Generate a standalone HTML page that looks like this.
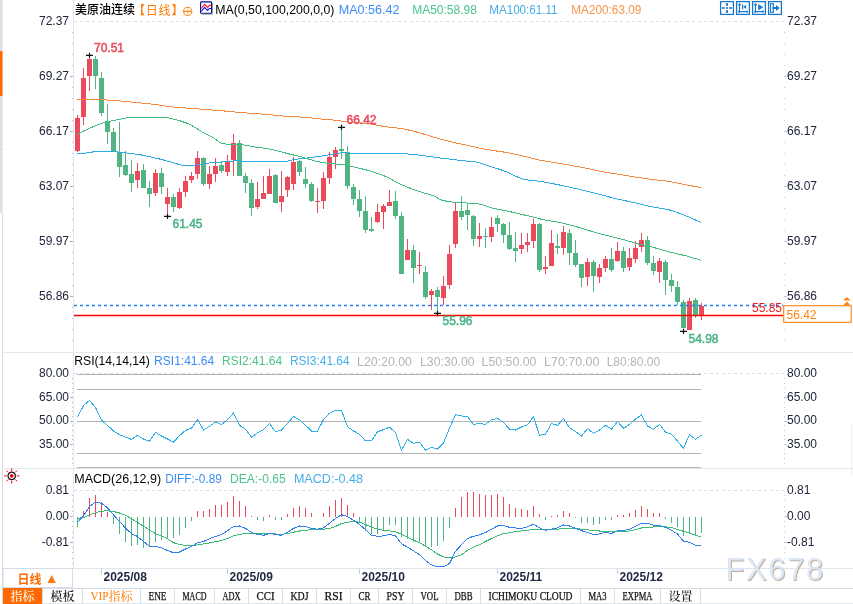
<!DOCTYPE html><html><head><meta charset="utf-8"><title>美原油连续</title><style>
html,body{margin:0;padding:0;width:853px;height:604px;overflow:hidden;background:#fff}
svg{display:block;position:absolute;left:0;top:0}
text{font-family:"Liberation Sans","Noto Sans CJK SC",sans-serif}
.ax{font-size:12px;fill:#20263c}
.hd{font-size:12px}
.tab{font-family:"Liberation Mono","Noto Serif CJK SC",monospace;font-size:12px;fill:#222}
.cj{font-family:"Noto Sans CJK SC",sans-serif}
</style></head><body>
<svg width="853" height="604" viewBox="0 0 853 604">
<rect x="0" y="0" width="2.5" height="213" fill="#dcdfe8"/>
<rect x="0" y="51" width="2.5" height="45" fill="#ff6a00"/>
<rect x="0" y="149" width="2.5" height="1" fill="#ccd0dc"/>
<rect x="2" y="213" width="1" height="391" fill="#d4dbe4"/>
<rect x="851" y="423" width="1" height="54" fill="#eceff3"/>
<g shape-rendering="crispEdges">
<rect x="73" y="0" width="1" height="569" fill="#e2e8ef"/>
<rect x="3" y="352" width="850" height="1" fill="#e2e8ef"/>
<rect x="3" y="468" width="850" height="1" fill="#e2e8ef"/>
<rect x="3" y="568" width="850" height="1" fill="#dde4ec"/>
</g>
<line x1="74" y1="21.5" x2="784" y2="21.5" stroke="#d8dee6" stroke-width="1" stroke-dasharray="3,3"/>
<line x1="74" y1="373.5" x2="784" y2="373.5" stroke="#d8dee6" stroke-width="1" stroke-dasharray="3,3"/>
<line x1="74" y1="490.5" x2="784" y2="490.5" stroke="#d8dee6" stroke-width="1" stroke-dasharray="3,3"/>
<rect x="72" y="32.0" width="1" height="1" fill="#b9bdc8"/>
<rect x="784" y="32.0" width="1" height="1" fill="#c4c8d0"/>
<rect x="72" y="43.0" width="1" height="1" fill="#b9bdc8"/>
<rect x="784" y="43.0" width="1" height="1" fill="#c4c8d0"/>
<rect x="72" y="54.0" width="1" height="1" fill="#b9bdc8"/>
<rect x="784" y="54.0" width="1" height="1" fill="#c4c8d0"/>
<rect x="72" y="65.0" width="1" height="1" fill="#b9bdc8"/>
<rect x="784" y="65.0" width="1" height="1" fill="#c4c8d0"/>
<line x1="70" y1="76.5" x2="73" y2="76.5" stroke="#a9aebb" stroke-width="1"/>
<line x1="784" y1="76.5" x2="787" y2="76.5" stroke="#c4c8d0" stroke-width="1"/>
<rect x="72" y="87.0" width="1" height="1" fill="#b9bdc8"/>
<rect x="784" y="87.0" width="1" height="1" fill="#c4c8d0"/>
<rect x="72" y="98.0" width="1" height="1" fill="#b9bdc8"/>
<rect x="784" y="98.0" width="1" height="1" fill="#c4c8d0"/>
<rect x="72" y="109.0" width="1" height="1" fill="#b9bdc8"/>
<rect x="784" y="109.0" width="1" height="1" fill="#c4c8d0"/>
<rect x="72" y="120.0" width="1" height="1" fill="#b9bdc8"/>
<rect x="784" y="120.0" width="1" height="1" fill="#c4c8d0"/>
<line x1="70" y1="131.5" x2="73" y2="131.5" stroke="#a9aebb" stroke-width="1"/>
<line x1="784" y1="131.5" x2="787" y2="131.5" stroke="#c4c8d0" stroke-width="1"/>
<rect x="72" y="142.0" width="1" height="1" fill="#b9bdc8"/>
<rect x="784" y="142.0" width="1" height="1" fill="#c4c8d0"/>
<rect x="72" y="153.0" width="1" height="1" fill="#b9bdc8"/>
<rect x="784" y="153.0" width="1" height="1" fill="#c4c8d0"/>
<rect x="72" y="164.0" width="1" height="1" fill="#b9bdc8"/>
<rect x="784" y="164.0" width="1" height="1" fill="#c4c8d0"/>
<rect x="72" y="175.0" width="1" height="1" fill="#b9bdc8"/>
<rect x="784" y="175.0" width="1" height="1" fill="#c4c8d0"/>
<line x1="70" y1="186.5" x2="73" y2="186.5" stroke="#a9aebb" stroke-width="1"/>
<line x1="784" y1="186.5" x2="787" y2="186.5" stroke="#c4c8d0" stroke-width="1"/>
<rect x="72" y="197.0" width="1" height="1" fill="#b9bdc8"/>
<rect x="784" y="197.0" width="1" height="1" fill="#c4c8d0"/>
<rect x="72" y="208.0" width="1" height="1" fill="#b9bdc8"/>
<rect x="784" y="208.0" width="1" height="1" fill="#c4c8d0"/>
<rect x="72" y="219.0" width="1" height="1" fill="#b9bdc8"/>
<rect x="784" y="219.0" width="1" height="1" fill="#c4c8d0"/>
<rect x="72" y="230.0" width="1" height="1" fill="#b9bdc8"/>
<rect x="784" y="230.0" width="1" height="1" fill="#c4c8d0"/>
<line x1="70" y1="241.5" x2="73" y2="241.5" stroke="#a9aebb" stroke-width="1"/>
<line x1="784" y1="241.5" x2="787" y2="241.5" stroke="#c4c8d0" stroke-width="1"/>
<rect x="72" y="252.0" width="1" height="1" fill="#b9bdc8"/>
<rect x="784" y="252.0" width="1" height="1" fill="#c4c8d0"/>
<rect x="72" y="263.0" width="1" height="1" fill="#b9bdc8"/>
<rect x="784" y="263.0" width="1" height="1" fill="#c4c8d0"/>
<rect x="72" y="274.0" width="1" height="1" fill="#b9bdc8"/>
<rect x="784" y="274.0" width="1" height="1" fill="#c4c8d0"/>
<rect x="72" y="285.0" width="1" height="1" fill="#b9bdc8"/>
<rect x="784" y="285.0" width="1" height="1" fill="#c4c8d0"/>
<line x1="70" y1="296.5" x2="73" y2="296.5" stroke="#a9aebb" stroke-width="1"/>
<line x1="784" y1="296.5" x2="787" y2="296.5" stroke="#c4c8d0" stroke-width="1"/>
<rect x="72" y="307.0" width="1" height="1" fill="#b9bdc8"/>
<rect x="784" y="307.0" width="1" height="1" fill="#c4c8d0"/>
<rect x="72" y="318.0" width="1" height="1" fill="#b9bdc8"/>
<rect x="784" y="318.0" width="1" height="1" fill="#c4c8d0"/>
<rect x="72" y="329.0" width="1" height="1" fill="#b9bdc8"/>
<rect x="784" y="329.0" width="1" height="1" fill="#c4c8d0"/>
<rect x="72" y="340.0" width="1" height="1" fill="#b9bdc8"/>
<rect x="784" y="340.0" width="1" height="1" fill="#c4c8d0"/>
<text class="ax" x="69" y="25.3" text-anchor="end">72.37</text>
<text class="ax" x="787" y="25.3">72.37</text>
<text class="ax" x="69" y="80.25" text-anchor="end">69.27</text>
<text class="ax" x="787" y="80.25">69.27</text>
<text class="ax" x="69" y="135.2" text-anchor="end">66.17</text>
<text class="ax" x="787" y="135.2">66.17</text>
<text class="ax" x="69" y="190.15" text-anchor="end">63.07</text>
<text class="ax" x="787" y="190.15">63.07</text>
<text class="ax" x="69" y="245.1" text-anchor="end">59.97</text>
<text class="ax" x="787" y="245.1">59.97</text>
<text class="ax" x="69" y="300.05" text-anchor="end">56.86</text>
<text class="ax" x="787" y="300.05">56.86</text>
<rect x="72" y="378.0" width="1" height="1" fill="#b9bdc8"/>
<rect x="784" y="378.0" width="1" height="1" fill="#c4c8d0"/>
<rect x="72" y="383.0" width="1" height="1" fill="#b9bdc8"/>
<rect x="784" y="383.0" width="1" height="1" fill="#c4c8d0"/>
<rect x="72" y="388.0" width="1" height="1" fill="#b9bdc8"/>
<rect x="784" y="388.0" width="1" height="1" fill="#c4c8d0"/>
<rect x="72" y="392.0" width="1" height="1" fill="#b9bdc8"/>
<rect x="784" y="392.0" width="1" height="1" fill="#c4c8d0"/>
<line x1="70" y1="397.5" x2="73" y2="397.5" stroke="#a9aebb" stroke-width="1"/>
<line x1="784" y1="397.5" x2="787" y2="397.5" stroke="#c4c8d0" stroke-width="1"/>
<rect x="72" y="402.0" width="1" height="1" fill="#b9bdc8"/>
<rect x="784" y="402.0" width="1" height="1" fill="#c4c8d0"/>
<rect x="72" y="407.0" width="1" height="1" fill="#b9bdc8"/>
<rect x="784" y="407.0" width="1" height="1" fill="#c4c8d0"/>
<rect x="72" y="411.0" width="1" height="1" fill="#b9bdc8"/>
<rect x="784" y="411.0" width="1" height="1" fill="#c4c8d0"/>
<rect x="72" y="416.0" width="1" height="1" fill="#b9bdc8"/>
<rect x="784" y="416.0" width="1" height="1" fill="#c4c8d0"/>
<line x1="70" y1="421.5" x2="73" y2="421.5" stroke="#a9aebb" stroke-width="1"/>
<line x1="784" y1="421.5" x2="787" y2="421.5" stroke="#c4c8d0" stroke-width="1"/>
<rect x="72" y="425.0" width="1" height="1" fill="#b9bdc8"/>
<rect x="784" y="425.0" width="1" height="1" fill="#c4c8d0"/>
<rect x="72" y="430.0" width="1" height="1" fill="#b9bdc8"/>
<rect x="784" y="430.0" width="1" height="1" fill="#c4c8d0"/>
<rect x="72" y="435.0" width="1" height="1" fill="#b9bdc8"/>
<rect x="784" y="435.0" width="1" height="1" fill="#c4c8d0"/>
<rect x="72" y="439.0" width="1" height="1" fill="#b9bdc8"/>
<rect x="784" y="439.0" width="1" height="1" fill="#c4c8d0"/>
<line x1="70" y1="444.5" x2="73" y2="444.5" stroke="#a9aebb" stroke-width="1"/>
<line x1="784" y1="444.5" x2="787" y2="444.5" stroke="#c4c8d0" stroke-width="1"/>
<rect x="72" y="449.0" width="1" height="1" fill="#b9bdc8"/>
<rect x="784" y="449.0" width="1" height="1" fill="#c4c8d0"/>
<rect x="72" y="453.0" width="1" height="1" fill="#b9bdc8"/>
<rect x="784" y="453.0" width="1" height="1" fill="#c4c8d0"/>
<rect x="72" y="458.0" width="1" height="1" fill="#b9bdc8"/>
<rect x="784" y="458.0" width="1" height="1" fill="#c4c8d0"/>
<rect x="72" y="463.0" width="1" height="1" fill="#b9bdc8"/>
<rect x="784" y="463.0" width="1" height="1" fill="#c4c8d0"/>
<text class="ax" x="69" y="377.4" text-anchor="end">80.00</text>
<text class="ax" x="787" y="377.4">80.00</text>
<text class="ax" x="69" y="400.85" text-anchor="end">65.00</text>
<text class="ax" x="787" y="400.85">65.00</text>
<text class="ax" x="69" y="424.3" text-anchor="end">50.00</text>
<text class="ax" x="787" y="424.3">50.00</text>
<text class="ax" x="69" y="447.75" text-anchor="end">35.00</text>
<text class="ax" x="787" y="447.75">35.00</text>
<rect x="72" y="495.0" width="1" height="1" fill="#b9bdc8"/>
<rect x="784" y="495.0" width="1" height="1" fill="#c4c8d0"/>
<rect x="72" y="500.0" width="1" height="1" fill="#b9bdc8"/>
<rect x="784" y="500.0" width="1" height="1" fill="#c4c8d0"/>
<rect x="72" y="506.0" width="1" height="1" fill="#b9bdc8"/>
<rect x="784" y="506.0" width="1" height="1" fill="#c4c8d0"/>
<rect x="72" y="511.0" width="1" height="1" fill="#b9bdc8"/>
<rect x="784" y="511.0" width="1" height="1" fill="#c4c8d0"/>
<line x1="70" y1="516.5" x2="73" y2="516.5" stroke="#a9aebb" stroke-width="1"/>
<line x1="784" y1="516.5" x2="787" y2="516.5" stroke="#c4c8d0" stroke-width="1"/>
<rect x="72" y="521.0" width="1" height="1" fill="#b9bdc8"/>
<rect x="784" y="521.0" width="1" height="1" fill="#c4c8d0"/>
<rect x="72" y="526.0" width="1" height="1" fill="#b9bdc8"/>
<rect x="784" y="526.0" width="1" height="1" fill="#c4c8d0"/>
<rect x="72" y="532.0" width="1" height="1" fill="#b9bdc8"/>
<rect x="784" y="532.0" width="1" height="1" fill="#c4c8d0"/>
<rect x="72" y="537.0" width="1" height="1" fill="#b9bdc8"/>
<rect x="784" y="537.0" width="1" height="1" fill="#c4c8d0"/>
<line x1="70" y1="542.5" x2="73" y2="542.5" stroke="#a9aebb" stroke-width="1"/>
<line x1="784" y1="542.5" x2="787" y2="542.5" stroke="#c4c8d0" stroke-width="1"/>
<rect x="72" y="547.0" width="1" height="1" fill="#b9bdc8"/>
<rect x="784" y="547.0" width="1" height="1" fill="#c4c8d0"/>
<rect x="72" y="552.0" width="1" height="1" fill="#b9bdc8"/>
<rect x="784" y="552.0" width="1" height="1" fill="#c4c8d0"/>
<rect x="72" y="558.0" width="1" height="1" fill="#b9bdc8"/>
<rect x="784" y="558.0" width="1" height="1" fill="#c4c8d0"/>
<rect x="72" y="563.0" width="1" height="1" fill="#b9bdc8"/>
<rect x="784" y="563.0" width="1" height="1" fill="#c4c8d0"/>
<text class="ax" x="69" y="494" text-anchor="end">0.81</text>
<text class="ax" x="787" y="494">0.81</text>
<text class="ax" x="69" y="520" text-anchor="end">0.00</text>
<text class="ax" x="787" y="520">0.00</text>
<text class="ax" x="69" y="546" text-anchor="end">-0.81</text>
<text class="ax" x="787" y="546">-0.81</text>
<g shape-rendering="crispEdges">
<rect x="77" y="114.8" width="1" height="36.8" fill="#ea4a5c"/>
<rect x="75" y="118" width="5" height="33" fill="#ea4a5c"/>
<rect x="83" y="67.9" width="1" height="56.9" fill="#ea4a5c"/>
<rect x="81" y="77.9" width="5" height="38.7" fill="#ea4a5c"/>
<rect x="89" y="55.3" width="1" height="35.7" fill="#ea4a5c"/>
<rect x="87" y="58.8" width="5" height="16.7" fill="#ea4a5c"/>
<rect x="95" y="56" width="1" height="32.6" fill="#52b483"/>
<rect x="93" y="58.9" width="5" height="16.6" fill="#52b483"/>
<rect x="101" y="71.5" width="1" height="44.1" fill="#52b483"/>
<rect x="99" y="78.2" width="5" height="34.4" fill="#52b483"/>
<rect x="107" y="104.1" width="1" height="39.7" fill="#52b483"/>
<rect x="105" y="121.3" width="5" height="10.2" fill="#52b483"/>
<rect x="113" y="127.9" width="1" height="23.6" fill="#52b483"/>
<rect x="111" y="132.3" width="5" height="18.4" fill="#52b483"/>
<rect x="119" y="121.9" width="1" height="54.6" fill="#52b483"/>
<rect x="117" y="151.6" width="5" height="14.9" fill="#52b483"/>
<rect x="125" y="151" width="1" height="24.6" fill="#52b483"/>
<rect x="123" y="165" width="5" height="9.7" fill="#52b483"/>
<rect x="131" y="160.1" width="1" height="31.5" fill="#52b483"/>
<rect x="129" y="174.2" width="5" height="8.3" fill="#52b483"/>
<rect x="137" y="162.9" width="1" height="24.6" fill="#ea4a5c"/>
<rect x="135" y="171.2" width="5" height="9.1" fill="#ea4a5c"/>
<rect x="143" y="164" width="1" height="24" fill="#52b483"/>
<rect x="141" y="170" width="5" height="18" fill="#52b483"/>
<rect x="149" y="181" width="1" height="26" fill="#52b483"/>
<rect x="147" y="188" width="5" height="5.7" fill="#52b483"/>
<rect x="155" y="168.9" width="1" height="27" fill="#ea4a5c"/>
<rect x="153" y="173" width="5" height="20" fill="#ea4a5c"/>
<rect x="161" y="168" width="1" height="25.7" fill="#52b483"/>
<rect x="159" y="173" width="5" height="14.1" fill="#52b483"/>
<rect x="167" y="188" width="1" height="27" fill="#ea4a5c"/>
<rect x="165" y="197" width="5" height="6.7" fill="#ea4a5c"/>
<rect x="173" y="193.7" width="1" height="18.3" fill="#52b483"/>
<rect x="171" y="197" width="5" height="10" fill="#52b483"/>
<rect x="179" y="188" width="1" height="20.6" fill="#ea4a5c"/>
<rect x="177" y="192" width="5" height="15.8" fill="#ea4a5c"/>
<rect x="185" y="176" width="1" height="21" fill="#ea4a5c"/>
<rect x="183" y="181" width="5" height="11" fill="#ea4a5c"/>
<rect x="191" y="172.2" width="1" height="10.8" fill="#ea4a5c"/>
<rect x="189" y="176" width="5" height="3.7" fill="#ea4a5c"/>
<rect x="197" y="151.1" width="1" height="27.7" fill="#ea4a5c"/>
<rect x="195" y="158.1" width="5" height="15.7" fill="#ea4a5c"/>
<rect x="203" y="157.3" width="1" height="28.6" fill="#52b483"/>
<rect x="201" y="158.1" width="5" height="25.6" fill="#52b483"/>
<rect x="209" y="166" width="1" height="22.7" fill="#ea4a5c"/>
<rect x="207" y="173.8" width="5" height="9.9" fill="#ea4a5c"/>
<rect x="215" y="158.1" width="1" height="23.5" fill="#ea4a5c"/>
<rect x="213" y="166" width="5" height="7.8" fill="#ea4a5c"/>
<rect x="221" y="161" width="1" height="11.6" fill="#52b483"/>
<rect x="219" y="165" width="5" height="5.5" fill="#52b483"/>
<rect x="227" y="155.1" width="1" height="20.4" fill="#ea4a5c"/>
<rect x="225" y="161" width="5" height="10.7" fill="#ea4a5c"/>
<rect x="233" y="134.1" width="1" height="41.9" fill="#ea4a5c"/>
<rect x="231" y="143.2" width="5" height="16.5" fill="#ea4a5c"/>
<rect x="239" y="139.9" width="1" height="35.6" fill="#52b483"/>
<rect x="237" y="143.2" width="5" height="32.3" fill="#52b483"/>
<rect x="245" y="173" width="1" height="19.5" fill="#52b483"/>
<rect x="243" y="175.5" width="5" height="7.1" fill="#52b483"/>
<rect x="251" y="178.8" width="1" height="37" fill="#52b483"/>
<rect x="249" y="183" width="5" height="24.8" fill="#52b483"/>
<rect x="257" y="182.2" width="1" height="26.9" fill="#ea4a5c"/>
<rect x="255" y="199.2" width="5" height="7.8" fill="#ea4a5c"/>
<rect x="263" y="176" width="1" height="22.7" fill="#ea4a5c"/>
<rect x="261" y="192.9" width="5" height="5.8" fill="#ea4a5c"/>
<rect x="269" y="168.9" width="1" height="24.8" fill="#ea4a5c"/>
<rect x="267" y="176" width="5" height="17.7" fill="#ea4a5c"/>
<rect x="275" y="173.9" width="1" height="28.6" fill="#52b483"/>
<rect x="273" y="174.7" width="5" height="27.8" fill="#52b483"/>
<rect x="281" y="171.1" width="1" height="40.4" fill="#ea4a5c"/>
<rect x="279" y="196.3" width="5" height="5.3" fill="#ea4a5c"/>
<rect x="287" y="176" width="1" height="20.7" fill="#ea4a5c"/>
<rect x="285" y="177.1" width="5" height="12.6" fill="#ea4a5c"/>
<rect x="293" y="157" width="1" height="32.7" fill="#ea4a5c"/>
<rect x="291" y="161.9" width="5" height="21.8" fill="#ea4a5c"/>
<rect x="299" y="159.6" width="1" height="16.2" fill="#52b483"/>
<rect x="297" y="160.9" width="5" height="10.9" fill="#52b483"/>
<rect x="305" y="167.2" width="1" height="20.5" fill="#52b483"/>
<rect x="303" y="179.1" width="5" height="4.6" fill="#52b483"/>
<rect x="311" y="182.1" width="1" height="19.9" fill="#52b483"/>
<rect x="309" y="184" width="5" height="16.9" fill="#52b483"/>
<rect x="317" y="188" width="1" height="24.8" fill="#ea4a5c"/>
<rect x="315" y="200.9" width="5" height="1.2" fill="#ea4a5c"/>
<rect x="323" y="171.8" width="1" height="37.1" fill="#ea4a5c"/>
<rect x="321" y="178.1" width="5" height="22.8" fill="#ea4a5c"/>
<rect x="329" y="152.1" width="1" height="31.4" fill="#ea4a5c"/>
<rect x="327" y="157.1" width="5" height="20.9" fill="#ea4a5c"/>
<rect x="335" y="147.2" width="1" height="21.4" fill="#ea4a5c"/>
<rect x="333" y="150.1" width="5" height="6.6" fill="#ea4a5c"/>
<rect x="341" y="126.9" width="1" height="31.8" fill="#52b483"/>
<rect x="339" y="149.3" width="5" height="1.4" fill="#52b483"/>
<rect x="347" y="146.2" width="1" height="42.3" fill="#52b483"/>
<rect x="345" y="152.1" width="5" height="33.4" fill="#52b483"/>
<rect x="353" y="184.2" width="1" height="20.4" fill="#52b483"/>
<rect x="351" y="186.8" width="5" height="11.9" fill="#52b483"/>
<rect x="359" y="190.1" width="1" height="26.5" fill="#52b483"/>
<rect x="357" y="199.3" width="5" height="11.3" fill="#52b483"/>
<rect x="365" y="196.1" width="1" height="37.3" fill="#52b483"/>
<rect x="363" y="211.2" width="5" height="18.3" fill="#52b483"/>
<rect x="371" y="217.2" width="1" height="14.3" fill="#52b483"/>
<rect x="369" y="229.1" width="5" height="1.4" fill="#52b483"/>
<rect x="377" y="204" width="1" height="18.5" fill="#ea4a5c"/>
<rect x="375" y="212" width="5" height="9.5" fill="#ea4a5c"/>
<rect x="383" y="204" width="1" height="24.5" fill="#ea4a5c"/>
<rect x="381" y="206" width="5" height="5.6" fill="#ea4a5c"/>
<rect x="389" y="190.1" width="1" height="15.5" fill="#ea4a5c"/>
<rect x="387" y="202" width="5" height="3.6" fill="#ea4a5c"/>
<rect x="395" y="191.3" width="1" height="27.2" fill="#52b483"/>
<rect x="393" y="201.3" width="5" height="14.3" fill="#52b483"/>
<rect x="401" y="212.3" width="1" height="61.2" fill="#52b483"/>
<rect x="399" y="216" width="5" height="57.5" fill="#52b483"/>
<rect x="407" y="238.7" width="1" height="20.9" fill="#ea4a5c"/>
<rect x="405" y="250.1" width="5" height="9.5" fill="#ea4a5c"/>
<rect x="413" y="245.3" width="1" height="37.2" fill="#52b483"/>
<rect x="411" y="250.1" width="5" height="17.5" fill="#52b483"/>
<rect x="419" y="252.1" width="1" height="21.4" fill="#ea4a5c"/>
<rect x="417" y="264.8" width="5" height="1.6" fill="#ea4a5c"/>
<rect x="425" y="266" width="1" height="32.9" fill="#52b483"/>
<rect x="423" y="271.9" width="5" height="25.1" fill="#52b483"/>
<rect x="431" y="289" width="1" height="20.7" fill="#ea4a5c"/>
<rect x="429" y="291" width="5" height="4" fill="#ea4a5c"/>
<rect x="437" y="287" width="1" height="26.4" fill="#52b483"/>
<rect x="435" y="289.8" width="5" height="7.2" fill="#52b483"/>
<rect x="443" y="275.9" width="1" height="29.4" fill="#ea4a5c"/>
<rect x="441" y="285.8" width="5" height="12" fill="#ea4a5c"/>
<rect x="449" y="244.6" width="1" height="44.4" fill="#ea4a5c"/>
<rect x="447" y="254" width="5" height="31" fill="#ea4a5c"/>
<rect x="455" y="202.8" width="1" height="44.8" fill="#ea4a5c"/>
<rect x="453" y="210.8" width="5" height="33.2" fill="#ea4a5c"/>
<rect x="461" y="195.9" width="1" height="23.8" fill="#52b483"/>
<rect x="459" y="210.8" width="5" height="6" fill="#52b483"/>
<rect x="467" y="202.8" width="1" height="26.9" fill="#52b483"/>
<rect x="465" y="209.8" width="5" height="5" fill="#52b483"/>
<rect x="473" y="215.4" width="1" height="30.2" fill="#52b483"/>
<rect x="471" y="215.8" width="5" height="22.8" fill="#52b483"/>
<rect x="479" y="222.7" width="1" height="23.9" fill="#ea4a5c"/>
<rect x="477" y="236" width="5" height="2.6" fill="#ea4a5c"/>
<rect x="485" y="228.1" width="1" height="19.5" fill="#52b483"/>
<rect x="483" y="236" width="5" height="1.2" fill="#52b483"/>
<rect x="491" y="216.8" width="1" height="24.8" fill="#ea4a5c"/>
<rect x="489" y="227.3" width="5" height="9.3" fill="#ea4a5c"/>
<rect x="497" y="215.4" width="1" height="16.6" fill="#52b483"/>
<rect x="495" y="218.1" width="5" height="5.6" fill="#52b483"/>
<rect x="503" y="222.7" width="1" height="20.5" fill="#52b483"/>
<rect x="501" y="224.1" width="5" height="10.5" fill="#52b483"/>
<rect x="509" y="222.1" width="1" height="27.8" fill="#52b483"/>
<rect x="507" y="235.2" width="5" height="13.3" fill="#52b483"/>
<rect x="515" y="232.1" width="1" height="29.4" fill="#52b483"/>
<rect x="513" y="248" width="5" height="2.5" fill="#52b483"/>
<rect x="521" y="232.7" width="1" height="21.2" fill="#ea4a5c"/>
<rect x="519" y="245.2" width="5" height="3.3" fill="#ea4a5c"/>
<rect x="527" y="233.2" width="1" height="18.3" fill="#ea4a5c"/>
<rect x="525" y="242" width="5" height="2.6" fill="#ea4a5c"/>
<rect x="533" y="218.7" width="1" height="28.9" fill="#ea4a5c"/>
<rect x="531" y="224.1" width="5" height="16.5" fill="#ea4a5c"/>
<rect x="539" y="222.7" width="1" height="49.1" fill="#52b483"/>
<rect x="537" y="223.7" width="5" height="46.1" fill="#52b483"/>
<rect x="545" y="255.9" width="1" height="18.5" fill="#ea4a5c"/>
<rect x="543" y="267" width="5" height="2.4" fill="#ea4a5c"/>
<rect x="551" y="229.7" width="1" height="36.1" fill="#ea4a5c"/>
<rect x="549" y="243.2" width="5" height="22.6" fill="#ea4a5c"/>
<rect x="557" y="233.8" width="1" height="19.8" fill="#52b483"/>
<rect x="555" y="246" width="5" height="1.6" fill="#52b483"/>
<rect x="563" y="225.8" width="1" height="28.8" fill="#ea4a5c"/>
<rect x="561" y="231.8" width="5" height="15.9" fill="#ea4a5c"/>
<rect x="569" y="228.8" width="1" height="35.8" fill="#52b483"/>
<rect x="567" y="232.8" width="5" height="19.9" fill="#52b483"/>
<rect x="575" y="240.1" width="1" height="26.5" fill="#52b483"/>
<rect x="573" y="253.2" width="5" height="11.4" fill="#52b483"/>
<rect x="581" y="264" width="1" height="23.4" fill="#52b483"/>
<rect x="579" y="264" width="5" height="13.5" fill="#52b483"/>
<rect x="587" y="258" width="1" height="28.4" fill="#ea4a5c"/>
<rect x="585" y="262" width="5" height="14.5" fill="#ea4a5c"/>
<rect x="593" y="260" width="1" height="32.4" fill="#52b483"/>
<rect x="591" y="262" width="5" height="13.5" fill="#52b483"/>
<rect x="599" y="264" width="1" height="18.5" fill="#ea4a5c"/>
<rect x="597" y="268" width="5" height="8.5" fill="#ea4a5c"/>
<rect x="605" y="256" width="1" height="15.9" fill="#ea4a5c"/>
<rect x="603" y="259.2" width="5" height="8.4" fill="#ea4a5c"/>
<rect x="611" y="248.1" width="1" height="23.7" fill="#52b483"/>
<rect x="609" y="259.2" width="5" height="10.4" fill="#52b483"/>
<rect x="617" y="241.9" width="1" height="20.3" fill="#ea4a5c"/>
<rect x="615" y="251.1" width="5" height="9.5" fill="#ea4a5c"/>
<rect x="623" y="246.8" width="1" height="24.9" fill="#52b483"/>
<rect x="621" y="251.1" width="5" height="16.6" fill="#52b483"/>
<rect x="629" y="248.1" width="1" height="22.4" fill="#ea4a5c"/>
<rect x="627" y="258.1" width="5" height="8.6" fill="#ea4a5c"/>
<rect x="635" y="241.2" width="1" height="21.5" fill="#ea4a5c"/>
<rect x="633" y="248.1" width="5" height="10.8" fill="#ea4a5c"/>
<rect x="641" y="232.9" width="1" height="18.6" fill="#ea4a5c"/>
<rect x="639" y="240.2" width="5" height="7.1" fill="#ea4a5c"/>
<rect x="647" y="236.2" width="1" height="28.5" fill="#52b483"/>
<rect x="645" y="240.2" width="5" height="22.5" fill="#52b483"/>
<rect x="653" y="256.1" width="1" height="18.5" fill="#52b483"/>
<rect x="651" y="263" width="5" height="7.5" fill="#52b483"/>
<rect x="659" y="258" width="1" height="24.8" fill="#ea4a5c"/>
<rect x="657" y="261.3" width="5" height="10.3" fill="#ea4a5c"/>
<rect x="665" y="260.2" width="1" height="34.4" fill="#52b483"/>
<rect x="663" y="262" width="5" height="17.7" fill="#52b483"/>
<rect x="671" y="273.9" width="1" height="17.8" fill="#52b483"/>
<rect x="669" y="280" width="5" height="5.5" fill="#52b483"/>
<rect x="677" y="281.1" width="1" height="23.8" fill="#52b483"/>
<rect x="675" y="287.2" width="5" height="14.4" fill="#52b483"/>
<rect x="683" y="300.4" width="1" height="29.6" fill="#52b483"/>
<rect x="681" y="302.1" width="5" height="25.6" fill="#52b483"/>
<rect x="689" y="298" width="1" height="31.7" fill="#ea4a5c"/>
<rect x="687" y="301.3" width="5" height="28.4" fill="#ea4a5c"/>
<rect x="695" y="298" width="1" height="19.8" fill="#52b483"/>
<rect x="693" y="300" width="5" height="15.3" fill="#52b483"/>
<rect x="701" y="302.9" width="1" height="16.9" fill="#ea4a5c"/>
<rect x="699" y="305.9" width="5" height="9.4" fill="#ea4a5c"/>
</g>
<path fill="none" stroke="#f78a3c" stroke-width="1" shape-rendering="crispEdges" d="M77,99.4 C80.67,99.4 84.33,99.4 88,99.4 C93.67,99.4 99.33,99.67 105,99.9 C110.33,100.12 115.67,100.57 121,101 C126.67,101.46 132.33,102.13 138,102.7 C143.33,103.23 148.67,103.66 154,104.3 C159.5,104.96 165,106.23 170.5,106.8 C176,107.37 181.5,107.67 187,108.1 C193,108.57 199,109.04 205,109.5 C210.33,109.91 215.67,110.26 221,110.7 C226.67,111.17 232.33,111.83 238,112.3 C243.33,112.74 248.67,113.1 254,113.5 C259.67,113.93 265.33,114.31 271,114.8 C276.33,115.26 281.67,116.05 287,116.4 C292.5,116.76 298,116.84 303.5,117.2 C309,117.56 314.5,118.38 320,118.9 C325.33,119.4 330.67,119.74 336,120.3 C341.33,120.86 346.67,121.89 352,122.4 C357.33,122.91 362.67,123.04 368,123.6 C373.67,124.19 379.33,125.8 385,126.6 C390.33,127.36 395.67,127.67 401,128.5 C406.67,129.38 412.33,130.91 418,132.4 C423.33,133.8 428.67,135.78 434,137.3 C439.67,138.91 445.33,140.44 451,141.8 C456.33,143.08 461.67,144.16 467,145.3 C474.33,146.87 481.67,148.64 489,149.9 C494.67,150.87 500.33,151.43 506,152.4 C511.33,153.32 516.67,154.48 522,155.7 C527.33,156.92 532.67,158.71 538,159.8 C543.67,160.96 549.33,161.74 555,162.7 C560.33,163.6 565.67,164.45 571,165.4 C576,166.29 581,167.21 586,168.2 C591.67,169.32 597.33,170.76 603,171.8 C608.33,172.78 613.67,173.53 619,174.4 C624.67,175.33 630.33,176.35 636,177.2 C641.33,178 646.67,178.72 652,179.4 C657.33,180.08 662.67,180.52 668,181.3 C673.67,182.13 679.33,183.52 685,184.6 C690.33,185.62 695.67,186.6 701,187.6"/>
<path fill="none" stroke="#30a8e2" stroke-width="1" shape-rendering="crispEdges" d="M77,153.6 C80.67,153.33 84.33,153.17 88,152.8 C91,152.5 94,151.4 97,151.4 C101.33,151.4 105.67,151.4 110,151.4 C113.67,151.4 117.33,152.03 121,152.4 C126.67,152.98 132.33,153.55 138,154.4 C143.33,155.2 148.67,156.5 154,157.7 C159.5,158.94 165,160.4 170.5,161.8 C175.33,163.03 180.17,165.6 185,165.6 C189.67,165.6 194.33,165.26 199,164.8 C201,164.6 203,163.77 205,163.5 C210.33,162.79 215.67,162.54 221,162.1 C226.67,161.64 232.33,160.8 238,160.8 C241.67,160.8 245.33,161.6 249,161.6 C256.33,161.6 263.67,161.6 271,161.6 C275.33,161.6 279.67,161.6 284,161.6 C287.67,161.6 291.33,159.94 295,159.4 C300.67,158.57 306.33,158.24 312,157.5 C317.33,156.8 322.67,155.77 328,155 C333.67,154.18 339.33,152.7 345,152.7 C347.33,152.7 349.67,153.29 352,153.3 C367.33,153.38 382.67,153.33 398,153.4 C404.67,153.43 411.33,154.32 418,155 C423.33,155.54 428.67,156.51 434,157.2 C439.67,157.94 445.33,158.63 451,159.3 C456.33,159.93 461.67,160.54 467,161.1 C470,161.42 473,161.56 476,162 C480.33,162.63 484.67,164.62 489,166 C494.67,167.8 500.33,169.45 506,171.6 C511.33,173.62 516.67,177.29 522,178.7 C524.67,179.41 527.33,179.94 530,180.3 C532.67,180.66 535.33,180.77 538,181.1 C543.67,181.8 549.33,183.01 555,184.1 C560.33,185.13 565.67,186.33 571,187.5 C576,188.6 581,189.69 586,190.9 C591.67,192.27 597.33,193.84 603,195.3 C608.33,196.67 613.67,198.16 619,199.4 C624.67,200.72 630.33,201.73 636,203 C641.33,204.19 646.67,205.73 652,206.8 C657.33,207.87 662.67,208.36 668,209.6 C673.67,210.91 679.33,213.32 685,215.5 C690.33,217.55 695.67,220.1 701,222.4"/>
<path fill="none" stroke="#42bd80" stroke-width="1" shape-rendering="crispEdges" d="M77,134.4 C80.67,132.57 84.33,130.5 88,128.9 C93.67,126.42 99.33,123.91 105,122.4 C110.33,120.98 115.67,120.14 121,119.1 C123.83,118.54 126.67,117.71 129.5,117.5 C132.33,117.29 135.17,117.1 138,117.1 C146.67,117.1 155.33,117.1 164,117.1 C166.17,117.1 168.33,117.82 170.5,118.3 C176,119.51 181.5,121.06 187,123.2 C193,125.54 199,130.37 205,133.5 C207.67,134.89 210.33,135.87 213,137.4 C215.67,138.93 218.33,142.2 221,143 C222.67,143.5 224.33,143.92 226,144 C230,144.2 234,144.13 238,144.3 C243.33,144.52 248.67,145.99 254,146.8 C259.67,147.66 265.33,148.24 271,149.3 C276.33,150.3 281.67,152.05 287,153.4 C292.5,154.79 298,156.05 303.5,157.5 C309,158.95 314.5,161.19 320,162.1 C325.33,162.99 330.67,163.67 336,164 C339,164.19 342,164.15 345,164.4 C346.67,164.54 348.33,165.53 350,166 C356,167.71 362,168.69 368,170.4 C373.67,172.02 379.33,173.86 385,176.2 C390.33,178.4 395.67,182.13 401,184.5 C406.67,187.02 412.33,189.14 418,191.1 C423.33,192.94 428.67,193.97 434,196.1 C436.67,197.16 439.33,199.46 442,200.2 C445,201.04 448,201.58 451,201.9 C456.33,202.46 461.67,202.75 467,203 C469.67,203.13 472.33,203.14 475,203.3 C481,203.66 487,206.79 493,208.2 C499,209.61 505,210.59 511,211.9 C517.33,213.28 523.67,214.77 530,216.3 C534.67,217.42 539.33,218.85 544,219.8 C548.67,220.75 553.33,221.29 558,222.2 C562.67,223.11 567.33,224.19 572,225.4 C576.67,226.61 581.33,228.2 586,229.6 C590.67,231 595.33,232.53 600,233.8 C604.67,235.07 609.33,236.12 614,237.3 C618.67,238.48 623.33,239.62 628,240.9 C632,242 636,243.43 640,244.4 C643.33,245.21 646.67,245.71 650,246.5 C656.33,248.01 662.67,250.28 669,251.9 C675,253.44 681,254.5 687,256.1 C691.67,257.34 696.33,258.97 701,260.4"/>
<line x1="74" y1="305.5" x2="783" y2="305.5" stroke="#1f7ff0" stroke-width="1.3" stroke-dasharray="3,3"/>
<line x1="74" y1="315.5" x2="783" y2="315.5" stroke="#ff0000" stroke-width="1.4"/>
<text x="782" y="312" text-anchor="end" style="font-size:12px;fill:#f01a1a">55.85</text>
<rect x="783.7" y="305.7" width="67.5" height="16.6" fill="#fff" stroke="#ff8410" stroke-width="1.1"/>
<text x="786.5" y="318.5" style="font-size:12px;fill:#ff8410">56.42</text>
<path d="M843.1,300.6 L846.9,297.1 L850.7,300.6 Z M843.1,305.6 L846.9,301.4 L850.7,305.6 Z" fill="#ff8410"/>
<path d="M86,55.3 h7 M89.5,52.8 v5" stroke="#111" stroke-width="1.2" fill="none"/>
<path d="M164,216.4 h7 M167.5,213.9 v5" stroke="#111" stroke-width="1.2" fill="none"/>
<path d="M338,127.3 h7 M341.5,124.8 v5" stroke="#111" stroke-width="1.2" fill="none"/>
<path d="M434,313.4 h7 M437.5,310.9 v5" stroke="#111" stroke-width="1.2" fill="none"/>
<path d="M680,331.4 h7 M683.5,328.9 v5" stroke="#111" stroke-width="1.2" fill="none"/>
<text x="94" y="51.8" style="font-size:12px;fill:#ea4a5c;stroke:#ea4a5c;stroke-width:0.5">70.51</text>
<text x="346.5" y="123.8" style="font-size:12px;fill:#ea4a5c;stroke:#ea4a5c;stroke-width:0.5">66.42</text>
<text x="172.5" y="227.9" style="font-size:12px;fill:#4ab485;stroke:#4ab485;stroke-width:0.5">61.45</text>
<text x="442.5" y="325" style="font-size:12px;fill:#4ab485;stroke:#4ab485;stroke-width:0.5">55.96</text>
<text x="688.5" y="342.8" style="font-size:12px;fill:#4ab485;stroke:#4ab485;stroke-width:0.5">54.98</text>
<text x="75" y="14.3" class="hd" style="fill:#000;font-weight:500"><tspan class="cj">美原油连续</tspan></text>
<text x="133" y="15.2" class="hd" style="fill:#ff7a00;letter-spacing:0.8px"><tspan class="cj">【日线】</tspan></text>
<g fill="none" stroke="#ff8010" stroke-width="1"><circle cx="187.7" cy="11.4" r="4.1"/><path d="M183.6,11.4h8.2" stroke-width="1.2"/><path d="M187.7,7.3v8.2" stroke-opacity="0.45"/></g>
<path d="M212.4,3 V14.3 H201.5" fill="none" stroke="#a8a898" stroke-width="1"/>
<rect x="200.6" y="1.9" width="11" height="11.4" rx="0.8" fill="#fff" stroke="#0c0c8c" stroke-width="1.1"/>
<polyline points="201.2,8.5 204.5,4.4 207.6,7.5 209.3,5.4 211,5.4" fill="none" stroke="#ff1414" stroke-width="1.1"/>
<polyline points="201.2,11.5 204.5,7.4 207.6,10.4 209.3,8.5 211,8.5" fill="none" stroke="#1414ff" stroke-width="1.1"/>
<text id="h_ma" x="215.2" y="14" class="hd" style="fill:#000" textLength="119.28" lengthAdjust="spacingAndGlyphs">MA(0,50,100,200,0,0)</text>
<text id="h_ma0" x="338.7" y="14" class="hd" style="fill:#3a8cf5" textLength="60.95" lengthAdjust="spacingAndGlyphs">MA0:56.42</text>
<text id="h_ma50" x="412.2" y="14" class="hd" style="fill:#4cc48a" textLength="64.72" lengthAdjust="spacingAndGlyphs">MA50:58.98</text>
<text id="h_ma100" x="489.3" y="14" class="hd" style="fill:#45aee8" textLength="68.2" lengthAdjust="spacingAndGlyphs">MA100:61.11</text>
<text id="h_ma200" x="571.3" y="14" class="hd" style="fill:#f7954d" textLength="69.99" lengthAdjust="spacingAndGlyphs">MA200:63.09</text>
<rect x="720.6" y="1.6" width="12.8" height="12.8" fill="#fff" stroke="#1a78d0" stroke-width="1.3"/>
<rect x="736.6" y="1.6" width="12.8" height="12.8" fill="#fff" stroke="#1a78d0" stroke-width="1.3"/>
<rect x="752.6" y="1.6" width="12.8" height="12.8" fill="#fff" stroke="#1a78d0" stroke-width="1.3"/>
<rect x="768.6" y="1.6" width="12.8" height="12.8" fill="#fff" stroke="#1a78d0" stroke-width="1.3"/>
<g fill="#1a78d0"><rect x="726" y="3.2" width="2" height="2.6"/><rect x="726" y="7.2" width="2" height="1.6"/><rect x="726" y="10.2" width="2" height="2.6"/><rect x="722" y="7.2" width="2.8" height="1.6"/><rect x="729.2" y="7.2" width="2.8" height="1.6"/></g>
<g fill="#1a78d0" stroke="none"><rect x="738.9" y="4" width="1.2" height="9"/><rect x="738" y="11" width="9.5" height="1.2"/><path d="M737.5,5.2 L739.5,3 L741.5,5.2 Z"/><path d="M746.6,9.9 L748.4,11.6 L746.6,13.3 Z"/></g>
<g fill="#1a78d0" stroke="none"><rect x="754.9" y="4" width="1.2" height="9"/><rect x="754" y="11" width="9.5" height="1.2"/><path d="M753.5,5.2 L755.5,3 L757.5,5.2 Z"/><path d="M762.6,9.9 L764.4,11.6 L762.6,13.3 Z"/></g>
<rect x="742" y="4.4" width="1.2" height="5" fill="#1a78d0"/><path d="M743.3,6.9 L746.2,4.7 L746.2,9.1 Z" fill="#1a78d0"/>
<path d="M758.2,4 L763.2,7.3 L758.2,10.6 Z" fill="#1a78d0"/>
<rect x="770.6" y="3.7" width="2.8" height="8.6" fill="none" stroke="#1a78d0" stroke-width="1.1"/>
<rect x="772.4" y="7" width="4.2" height="2" fill="#1a78d0"/><path d="M776,5.1 L779.7,8 L776,10.9 Z" fill="#1a78d0"/>
<text id="r_t" x="74.3" y="365.4" class="hd" style="fill:#000" textLength="75.52" lengthAdjust="spacingAndGlyphs">RSI(14,14,14)</text>
<text id="r_1" x="154.1" y="365.4" class="hd" style="fill:#3a8cf5" textLength="60.15" lengthAdjust="spacingAndGlyphs">RSI1:41.64</text>
<text id="r_2" x="222" y="365.4" class="hd" style="fill:#4cc48a" textLength="60.15" lengthAdjust="spacingAndGlyphs">RSI2:41.64</text>
<text id="r_3" x="289.9" y="365.4" class="hd" style="fill:#45aee8" textLength="59.75" lengthAdjust="spacingAndGlyphs">RSI3:41.64</text>
<text id="r_l0" x="357.1" y="366.1" class="hd" style="fill:#b4b4b4" textLength="54.89" lengthAdjust="spacingAndGlyphs">L20:20.00</text>
<text id="r_l1" x="420" y="366.1" class="hd" style="fill:#b4b4b4" textLength="54.59" lengthAdjust="spacingAndGlyphs">L30:30.00</text>
<text id="r_l2" x="481.6" y="366.1" class="hd" style="fill:#b4b4b4" textLength="54.79" lengthAdjust="spacingAndGlyphs">L50:50.00</text>
<text id="r_l3" x="544.1" y="366.1" class="hd" style="fill:#b4b4b4" textLength="55.19" lengthAdjust="spacingAndGlyphs">L70:70.00</text>
<text id="r_l4" x="606.7" y="366.1" class="hd" style="fill:#b4b4b4">L80:80.00</text>
<g shape-rendering="crispEdges">
<rect x="77" y="374" width="624" height="1" fill="#b2b2b2"/>
<rect x="77" y="389" width="624" height="1" fill="#b2b2b2"/>
<rect x="77" y="421" width="624" height="1" fill="#b2b2b2"/>
<rect x="77" y="453" width="624" height="1" fill="#b2b2b2"/>
<rect x="77" y="467" width="624" height="1" fill="#b2b2b2"/>
</g>
<polyline fill="none" stroke="#2fb0e8" stroke-width="1" shape-rendering="crispEdges" points="77.5,416.9 83.5,405.6 89.5,400.4 95.5,407.5 101.5,420.3 107.5,425.3 113.5,431 119.5,434.7 125.5,437.2 131.5,439.4 137.5,435.3 143.5,439 149.5,441.3 155.5,432.3 161.5,436 167.5,439 173.5,442.2 179.5,435.7 185.5,430.4 191.5,428.2 197.5,419.7 203.5,430 209.5,426.3 215.5,422.1 221.5,424.6 227.5,419.7 233.5,413.1 239.5,425.3 245.5,429.1 251.5,437.2 257.5,432.8 263.5,429.7 269.5,423.5 275.5,431.9 281.5,430 287.5,423.5 293.5,416.5 299.5,419.7 305.5,425.3 311.5,431 317.5,431 323.5,419.7 329.5,413.1 335.5,410.3 341.5,410.3 347.5,426.7 353.5,431 359.5,434.2 365.5,440.9 371.5,440.6 377.5,431.7 383.5,429.7 389.5,427.2 395.5,432.3 401.5,450.3 407.5,439.4 413.5,443.2 419.5,442.2 425.5,450.3 431.5,447.3 437.5,449.2 443.5,443.2 449.5,428.2 455.5,414.6 461.5,416 467.5,416.5 473.5,424.4 479.5,423.5 485.5,424.4 491.5,419.7 497.5,418.4 503.5,422.5 509.5,429.1 515.5,430 521.5,427 527.5,424.8 533.5,416.6 539.5,435.3 545.5,434.2 551.5,423.5 557.5,425.3 563.5,418.4 569.5,427.8 575.5,431.5 581.5,436 587.5,428.5 593.5,433.4 599.5,430 605.5,425.3 611.5,429.1 617.5,421.6 623.5,428.2 629.5,424.4 635.5,419 641.5,415.1 647.5,426 653.5,429.2 659.5,424.4 665.5,432 671.5,434.2 677.5,441.2 683.5,448.3 689.5,434.6 695.5,439.3 701.5,435"/>
<text id="m_t" x="74.3" y="482.6" class="hd" style="fill:#000" textLength="86.77" lengthAdjust="spacingAndGlyphs">MACD(26,12,9)</text>
<text id="m_diff" x="165.2" y="482.6" class="hd" style="fill:#3a8cf5" textLength="56.66" lengthAdjust="spacingAndGlyphs">DIFF:-0.89</text>
<text id="m_dea" x="230.1" y="482.6" class="hd" style="fill:#4cc48a" textLength="55.56" lengthAdjust="spacingAndGlyphs">DEA:-0.65</text>
<text id="m_macd" x="293.9" y="482.6" class="hd" style="fill:#45aee8" textLength="69.23" lengthAdjust="spacingAndGlyphs">MACD:-0.48</text>
<g shape-rendering="crispEdges">
<rect x="77" y="517.2" width="1" height="9.3" fill="#52b483"/>
<rect x="83" y="511" width="1" height="6.2" fill="#ea4a5c"/>
<rect x="89" y="498" width="1" height="19.2" fill="#ea4a5c"/>
<rect x="95" y="495.2" width="1" height="22" fill="#ea4a5c"/>
<rect x="101" y="502.1" width="1" height="15.1" fill="#ea4a5c"/>
<rect x="107" y="512.1" width="1" height="5.1" fill="#ea4a5c"/>
<rect x="113" y="517.2" width="1" height="6.7" fill="#52b483"/>
<rect x="119" y="517.2" width="1" height="16.8" fill="#52b483"/>
<rect x="125" y="517.2" width="1" height="24.3" fill="#52b483"/>
<rect x="131" y="517.2" width="1" height="29.2" fill="#52b483"/>
<rect x="137" y="517.2" width="1" height="28.1" fill="#52b483"/>
<rect x="143" y="517.2" width="1" height="30.5" fill="#52b483"/>
<rect x="149" y="517.2" width="1" height="30" fill="#52b483"/>
<rect x="155" y="517.2" width="1" height="24.3" fill="#52b483"/>
<rect x="161" y="517.2" width="1" height="22.5" fill="#52b483"/>
<rect x="167" y="517.2" width="1" height="20.6" fill="#52b483"/>
<rect x="173" y="517.2" width="1" height="21.2" fill="#52b483"/>
<rect x="179" y="517.2" width="1" height="17.4" fill="#52b483"/>
<rect x="185" y="517.2" width="1" height="10.5" fill="#52b483"/>
<rect x="191" y="517.2" width="1" height="3.7" fill="#52b483"/>
<rect x="197" y="511.2" width="1" height="6" fill="#ea4a5c"/>
<rect x="203" y="511.2" width="1" height="6" fill="#ea4a5c"/>
<rect x="209" y="508.9" width="1" height="8.3" fill="#ea4a5c"/>
<rect x="215" y="505" width="1" height="12.2" fill="#ea4a5c"/>
<rect x="221" y="504.8" width="1" height="12.4" fill="#ea4a5c"/>
<rect x="227" y="502.1" width="1" height="15.1" fill="#ea4a5c"/>
<rect x="233" y="495.9" width="1" height="21.3" fill="#ea4a5c"/>
<rect x="239" y="501" width="1" height="16.2" fill="#ea4a5c"/>
<rect x="245" y="505.9" width="1" height="11.3" fill="#ea4a5c"/>
<rect x="251" y="515.6" width="1" height="1.6" fill="#ea4a5c"/>
<rect x="257" y="517.2" width="1" height="2.6" fill="#52b483"/>
<rect x="263" y="517.2" width="1" height="3.7" fill="#52b483"/>
<rect x="269" y="514.7" width="1" height="2.5" fill="#ea4a5c"/>
<rect x="275" y="517.2" width="1" height="2.6" fill="#52b483"/>
<rect x="281" y="517.2" width="1" height="2.6" fill="#52b483"/>
<rect x="287" y="513.8" width="1" height="3.4" fill="#ea4a5c"/>
<rect x="293" y="508.1" width="1" height="9.1" fill="#ea4a5c"/>
<rect x="299" y="505.9" width="1" height="11.3" fill="#ea4a5c"/>
<rect x="305" y="508.1" width="1" height="9.1" fill="#ea4a5c"/>
<rect x="311" y="512.8" width="1" height="4.4" fill="#ea4a5c"/>
<rect x="317" y="516.6" width="1" height="0.6" fill="#ea4a5c"/>
<rect x="323" y="512.8" width="1" height="4.4" fill="#ea4a5c"/>
<rect x="329" y="506.3" width="1" height="10.9" fill="#ea4a5c"/>
<rect x="335" y="500.3" width="1" height="16.9" fill="#ea4a5c"/>
<rect x="341" y="497.8" width="1" height="19.4" fill="#ea4a5c"/>
<rect x="347" y="504.8" width="1" height="12.4" fill="#ea4a5c"/>
<rect x="353" y="512.8" width="1" height="4.4" fill="#ea4a5c"/>
<rect x="359" y="517.2" width="1" height="5.6" fill="#52b483"/>
<rect x="365" y="517.2" width="1" height="13.3" fill="#52b483"/>
<rect x="371" y="517.2" width="1" height="17.2" fill="#52b483"/>
<rect x="377" y="517.2" width="1" height="16.3" fill="#52b483"/>
<rect x="383" y="517.2" width="1" height="13.1" fill="#52b483"/>
<rect x="389" y="517.2" width="1" height="8.2" fill="#52b483"/>
<rect x="395" y="517.2" width="1" height="7.5" fill="#52b483"/>
<rect x="401" y="517.2" width="1" height="20" fill="#52b483"/>
<rect x="407" y="517.2" width="1" height="21.3" fill="#52b483"/>
<rect x="413" y="517.2" width="1" height="24.3" fill="#52b483"/>
<rect x="419" y="517.2" width="1" height="25.1" fill="#52b483"/>
<rect x="425" y="517.2" width="1" height="30" fill="#52b483"/>
<rect x="431" y="517.2" width="1" height="29.4" fill="#52b483"/>
<rect x="437" y="517.2" width="1" height="28.5" fill="#52b483"/>
<rect x="443" y="517.2" width="1" height="23.8" fill="#52b483"/>
<rect x="449" y="517.2" width="1" height="10.6" fill="#52b483"/>
<rect x="455" y="508.1" width="1" height="9.1" fill="#ea4a5c"/>
<rect x="461" y="497.3" width="1" height="19.9" fill="#ea4a5c"/>
<rect x="467" y="492.2" width="1" height="25" fill="#ea4a5c"/>
<rect x="473" y="492.2" width="1" height="25" fill="#ea4a5c"/>
<rect x="479" y="494.1" width="1" height="23.1" fill="#ea4a5c"/>
<rect x="485" y="495.4" width="1" height="21.8" fill="#ea4a5c"/>
<rect x="491" y="495.4" width="1" height="21.8" fill="#ea4a5c"/>
<rect x="497" y="494.1" width="1" height="23.1" fill="#ea4a5c"/>
<rect x="503" y="497.3" width="1" height="19.9" fill="#ea4a5c"/>
<rect x="509" y="503.5" width="1" height="13.7" fill="#ea4a5c"/>
<rect x="515" y="508.1" width="1" height="9.1" fill="#ea4a5c"/>
<rect x="521" y="509.1" width="1" height="8.1" fill="#ea4a5c"/>
<rect x="527" y="510" width="1" height="7.2" fill="#ea4a5c"/>
<rect x="533" y="505.9" width="1" height="11.3" fill="#ea4a5c"/>
<rect x="539" y="514.1" width="1" height="3.1" fill="#ea4a5c"/>
<rect x="545" y="517.2" width="1" height="2.6" fill="#52b483"/>
<rect x="551" y="516" width="1" height="1.2" fill="#ea4a5c"/>
<rect x="557" y="514.7" width="1" height="2.5" fill="#ea4a5c"/>
<rect x="563" y="511" width="1" height="6.2" fill="#ea4a5c"/>
<rect x="569" y="512.8" width="1" height="4.4" fill="#ea4a5c"/>
<rect x="575" y="517.2" width="1" height="0.7" fill="#52b483"/>
<rect x="581" y="517.2" width="1" height="5.6" fill="#52b483"/>
<rect x="587" y="517.2" width="1" height="5.6" fill="#52b483"/>
<rect x="593" y="517.2" width="1" height="7.5" fill="#52b483"/>
<rect x="599" y="517.2" width="1" height="6.3" fill="#52b483"/>
<rect x="605" y="517.2" width="1" height="2.6" fill="#52b483"/>
<rect x="611" y="517.2" width="1" height="2.6" fill="#52b483"/>
<rect x="617" y="514.7" width="1" height="2.5" fill="#ea4a5c"/>
<rect x="623" y="514.7" width="1" height="2.5" fill="#ea4a5c"/>
<rect x="629" y="512.8" width="1" height="4.4" fill="#ea4a5c"/>
<rect x="635" y="509.6" width="1" height="7.6" fill="#ea4a5c"/>
<rect x="641" y="505.9" width="1" height="11.3" fill="#ea4a5c"/>
<rect x="647" y="509.1" width="1" height="8.1" fill="#ea4a5c"/>
<rect x="653" y="512.8" width="1" height="4.4" fill="#ea4a5c"/>
<rect x="659" y="512.8" width="1" height="4.4" fill="#ea4a5c"/>
<rect x="665" y="517.2" width="1" height="1.6" fill="#52b483"/>
<rect x="671" y="517.2" width="1" height="5.4" fill="#52b483"/>
<rect x="677" y="517.2" width="1" height="10.2" fill="#52b483"/>
<rect x="683" y="517.2" width="1" height="18.9" fill="#52b483"/>
<rect x="689" y="517.2" width="1" height="16.7" fill="#52b483"/>
<rect x="695" y="517.2" width="1" height="17.9" fill="#52b483"/>
<rect x="701" y="517.2" width="1" height="15.3" fill="#52b483"/>
</g>
<polyline fill="none" stroke="#3cba78" stroke-width="1" shape-rendering="crispEdges" points="77.5,518.3 83.5,517.7 89.5,514.9 95.5,512.7 101.5,511.2 107.5,510.8 113.5,511.5 119.5,513 125.5,515.3 131.5,518.7 137.5,522.4 143.5,526.2 149.5,529.9 155.5,533.7 161.5,535.9 167.5,538.9 173.5,542.7 179.5,544.5 185.5,545.3 191.5,545.9 197.5,544.9 203.5,544 209.5,543 215.5,541.7 221.5,540.4 227.5,538.5 233.5,535.9 239.5,534.4 245.5,533.5 251.5,533.5 257.5,533.5 263.5,533.5 269.5,533.5 275.5,534 281.5,534.4 287.5,533.5 293.5,532.2 299.5,531 305.5,530.3 311.5,529.7 317.5,529.2 323.5,529.2 329.5,528.4 335.5,526.5 341.5,523.5 347.5,522.2 353.5,521.3 359.5,522.2 365.5,524.5 371.5,527.3 377.5,528.8 383.5,530.3 389.5,531 395.5,531.6 401.5,534.4 407.5,537.2 413.5,540 419.5,542.9 425.5,546 431.5,549.8 437.5,554.1 443.5,556.9 449.5,557.9 455.5,556.9 461.5,554.7 467.5,550.4 473.5,547.2 479.5,544.7 485.5,541.5 491.5,538.5 497.5,535.9 503.5,533.5 509.5,532.8 515.5,531.6 521.5,531 527.5,530.3 533.5,529.2 539.5,529.2 545.5,529.7 551.5,529.7 557.5,529.2 563.5,528.4 569.5,528.4 575.5,528.4 581.5,529.2 587.5,529.7 593.5,530.7 599.5,531 605.5,531 611.5,531 617.5,531 623.5,531.1 629.5,531 635.5,529.6 641.5,528 647.5,527.4 653.5,527 659.5,526.2 665.5,526.9 671.5,527.4 677.5,529.6 683.5,531.3 689.5,533.2 695.5,535.1 701.5,537.1"/>
<polyline fill="none" stroke="#2f80f0" stroke-width="1" shape-rendering="crispEdges" points="77.5,522.4 83.5,515.8 89.5,506.5 95.5,502.1 101.5,503.3 107.5,507.8 113.5,514.9 119.5,521.5 125.5,528 131.5,533.7 137.5,536.5 143.5,541.5 149.5,546.4 155.5,546.4 161.5,547.7 167.5,550.5 173.5,552.8 179.5,552 185.5,549 191.5,546.4 197.5,542.7 203.5,541.5 209.5,538.7 215.5,536.5 221.5,534.4 227.5,530.7 233.5,526.5 239.5,526 245.5,528.4 251.5,532.5 257.5,534.4 263.5,535.3 269.5,533.5 275.5,534.4 281.5,535.3 287.5,532.2 293.5,528.4 299.5,526 305.5,526.5 311.5,528.4 317.5,529.2 323.5,527.8 329.5,523.2 335.5,518.5 341.5,514.7 347.5,516.6 353.5,520.3 359.5,524.5 365.5,529.7 371.5,535.3 377.5,536.3 383.5,535.9 389.5,534.4 395.5,535.9 401.5,543.8 407.5,547.2 413.5,550.9 419.5,554.7 425.5,560.7 431.5,564.8 437.5,566.7 443.5,566.7 449.5,563.5 455.5,551.3 461.5,544.7 467.5,538.5 473.5,536.3 479.5,534.8 485.5,532.5 491.5,529.2 497.5,526 503.5,525.4 509.5,527.3 515.5,528 521.5,528.4 527.5,526.9 533.5,524.1 539.5,527.8 545.5,530.3 551.5,529.2 557.5,527.8 563.5,525 569.5,526 575.5,528.4 581.5,530.7 587.5,532.5 593.5,534.4 599.5,534 605.5,532.2 611.5,533.5 617.5,530.7 623.5,530.5 629.5,529.4 635.5,526.2 641.5,523.3 647.5,523.4 653.5,525.1 659.5,525.6 665.5,527.4 671.5,530.3 677.5,533.9 683.5,541.2 689.5,542.4 695.5,545.3 701.5,545.6"/>
<g transform="translate(11.7,475.9)"><circle r="3.7" fill="#fff" stroke="#111" stroke-width="1.2"/><circle r="1.8" fill="#e00"/>
<line x1="5" y1="0" x2="7.6" y2="0" stroke="#e00" stroke-width="1"/>
<line x1="3.54" y1="3.54" x2="5.37" y2="5.37" stroke="#e00" stroke-width="1"/>
<line x1="0" y1="5" x2="0" y2="7.6" stroke="#e00" stroke-width="1"/>
<line x1="-3.54" y1="3.54" x2="-5.37" y2="5.37" stroke="#e00" stroke-width="1"/>
<line x1="-5" y1="0" x2="-7.6" y2="0" stroke="#e00" stroke-width="1"/>
<line x1="-3.54" y1="-3.54" x2="-5.37" y2="-5.37" stroke="#e00" stroke-width="1"/>
<line x1="-0" y1="-5" x2="-0" y2="-7.6" stroke="#e00" stroke-width="1"/>
<line x1="3.54" y1="-3.54" x2="5.37" y2="-5.37" stroke="#e00" stroke-width="1"/>
</g>
<rect x="3" y="568.5" width="69.5" height="19" fill="#fff" stroke="#d5dce5" stroke-width="1"/>
<text x="17.5" y="584" style="font-size:12px;fill:#ff6a00;font-weight:bold" class="cj">日线</text>
<path d="M47.5,583 L51.7,575 L55.9,583 Z" fill="#ff7a10"/>
<line x1="101.5" y1="569" x2="101.5" y2="574" stroke="#c4ccd6" stroke-width="1"/>
<text x="103.5" y="581" style="font-size:12px;font-weight:bold;fill:#1f2740">2025/08</text>
<line x1="227.5" y1="569" x2="227.5" y2="574" stroke="#c4ccd6" stroke-width="1"/>
<text x="229.5" y="581" style="font-size:12px;font-weight:bold;fill:#1f2740">2025/09</text>
<line x1="359.5" y1="569" x2="359.5" y2="574" stroke="#c4ccd6" stroke-width="1"/>
<text x="361.5" y="581" style="font-size:12px;font-weight:bold;fill:#1f2740">2025/10</text>
<line x1="497.5" y1="569" x2="497.5" y2="574" stroke="#c4ccd6" stroke-width="1"/>
<text x="499.5" y="581" style="font-size:12px;font-weight:bold;fill:#1f2740">2025/11</text>
<line x1="617.5" y1="569" x2="617.5" y2="574" stroke="#c4ccd6" stroke-width="1"/>
<text x="619.5" y="581" style="font-size:12px;font-weight:bold;fill:#1f2740">2025/12</text>
<text x="726.5" y="580.5" style="font-size:31px;letter-spacing:1.6px;fill:#b09888;opacity:0.8">FX678</text>
<text x="725.5" y="579.5" style="font-size:31px;letter-spacing:1.6px;fill:#dbe7f5">FX678</text>
<rect x="3" y="588" width="850" height="1" fill="#d5dce5"/>
<rect x="3" y="603" width="850" height="1" fill="#dfe5ec"/>
<rect x="3" y="588" width="39" height="16" fill="#ff6a00"/>
<text x="10.5" y="601" style="font-size:12px;fill:#fff;font-weight:500;font-family:'Noto Serif CJK SC',serif">指标</text>
<rect x="42" y="589" width="1" height="15" fill="#d5dce5"/>
<text x="50.5" y="601" style="font-size:12px;fill:#111;font-weight:500;font-family:'Noto Serif CJK SC',serif">模板</text>
<rect x="82" y="589" width="1" height="15" fill="#d5dce5"/>
<text x="90.5" y="600" textLength="18" lengthAdjust="spacingAndGlyphs" style="font-family:'Liberation Serif',serif;font-size:11.5px;fill:#ff7a00">VIP</text>
<text x="108.5" y="601" style="font-size:12px;fill:#ff7a00;font-family:'Noto Serif CJK SC',serif">指标</text>
<rect x="140" y="589" width="1" height="15" fill="#d5dce5"/>
<text x="148.5" y="600" textLength="18" lengthAdjust="spacingAndGlyphs" style="font-family:'Liberation Serif',serif;font-size:11.5px;fill:#111;stroke:#111;stroke-width:0.25">ENE</text>
<rect x="174" y="589" width="1" height="15" fill="#d5dce5"/>
<text x="182.5" y="600" textLength="24" lengthAdjust="spacingAndGlyphs" style="font-family:'Liberation Serif',serif;font-size:11.5px;fill:#111;stroke:#111;stroke-width:0.25">MACD</text>
<rect x="214" y="589" width="1" height="15" fill="#d5dce5"/>
<text x="222.5" y="600" textLength="18" lengthAdjust="spacingAndGlyphs" style="font-family:'Liberation Serif',serif;font-size:11.5px;fill:#111;stroke:#111;stroke-width:0.25">ADX</text>
<rect x="248" y="589" width="1" height="15" fill="#d5dce5"/>
<text x="256.5" y="600" textLength="18" lengthAdjust="spacingAndGlyphs" style="font-family:'Liberation Serif',serif;font-size:11.5px;fill:#111;stroke:#111;stroke-width:0.25">CCI</text>
<rect x="282" y="589" width="1" height="15" fill="#d5dce5"/>
<text x="290.5" y="600" textLength="18" lengthAdjust="spacingAndGlyphs" style="font-family:'Liberation Serif',serif;font-size:11.5px;fill:#111;stroke:#111;stroke-width:0.25">KDJ</text>
<rect x="316" y="589" width="1" height="15" fill="#d5dce5"/>
<text x="324.5" y="600" textLength="18" lengthAdjust="spacingAndGlyphs" style="font-family:'Liberation Serif',serif;font-size:11.5px;fill:#111;stroke:#111;stroke-width:0.25">RSI</text>
<rect x="350" y="589" width="1" height="15" fill="#d5dce5"/>
<text x="358.5" y="600" textLength="12" lengthAdjust="spacingAndGlyphs" style="font-family:'Liberation Serif',serif;font-size:11.5px;fill:#111;stroke:#111;stroke-width:0.25">CR</text>
<rect x="378" y="589" width="1" height="15" fill="#d5dce5"/>
<text x="386.5" y="600" textLength="18" lengthAdjust="spacingAndGlyphs" style="font-family:'Liberation Serif',serif;font-size:11.5px;fill:#111;stroke:#111;stroke-width:0.25">PSY</text>
<rect x="412" y="589" width="1" height="15" fill="#d5dce5"/>
<text x="420.5" y="600" textLength="18" lengthAdjust="spacingAndGlyphs" style="font-family:'Liberation Serif',serif;font-size:11.5px;fill:#111;stroke:#111;stroke-width:0.25">VOL</text>
<rect x="446" y="589" width="1" height="15" fill="#d5dce5"/>
<text x="454.5" y="600" textLength="18" lengthAdjust="spacingAndGlyphs" style="font-family:'Liberation Serif',serif;font-size:11.5px;fill:#111;stroke:#111;stroke-width:0.25">DBB</text>
<rect x="480" y="589" width="1" height="15" fill="#d5dce5"/>
<text x="488.5" y="600" textLength="84" lengthAdjust="spacingAndGlyphs" style="font-family:'Liberation Serif',serif;font-size:11.5px;fill:#111;stroke:#111;stroke-width:0.25">ICHIMOKU CLOUD</text>
<rect x="580" y="589" width="1" height="15" fill="#d5dce5"/>
<text x="588.5" y="600" textLength="18" lengthAdjust="spacingAndGlyphs" style="font-family:'Liberation Serif',serif;font-size:11.5px;fill:#111;stroke:#111;stroke-width:0.25">MA3</text>
<rect x="614" y="589" width="1" height="15" fill="#d5dce5"/>
<text x="622.5" y="600" textLength="30" lengthAdjust="spacingAndGlyphs" style="font-family:'Liberation Serif',serif;font-size:11.5px;fill:#111;stroke:#111;stroke-width:0.25">EXPMA</text>
<rect x="660" y="589" width="1" height="15" fill="#d5dce5"/>
<text x="668.5" y="601" style="font-size:12px;fill:#111;font-weight:500;font-family:'Noto Serif CJK SC',serif">设置</text>
<rect x="700" y="589" width="1" height="15" fill="#d5dce5"/>
</svg></body></html>
